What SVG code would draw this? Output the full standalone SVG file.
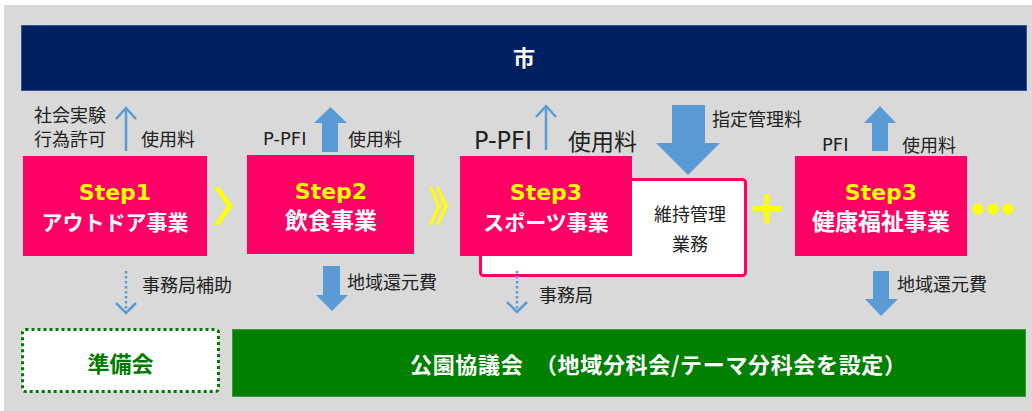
<svg xmlns="http://www.w3.org/2000/svg" width="1032" height="411" viewBox="0 0 1032 411">
<style>
.step{fill:#FF0066}
.t1{font-family:"DejaVu Sans","Noto Sans CJK JP",sans-serif;font-weight:bold;font-size:22px;fill:#FFFF00;text-anchor:middle}
.t2{font-family:"DejaVu Sans","Noto Sans CJK JP",sans-serif;font-weight:bold;font-size:23px;fill:#FFFFFF;text-anchor:middle}
.lb{font-family:"DejaVu Sans","Noto Sans CJK JP",sans-serif;font-size:18px;fill:#222222}
.blk{fill:#5B9BD5}
.thin{fill:none;stroke:#5B9BD5;stroke-width:2.5}
.dot{fill:none;stroke:#5B9BD5;stroke-width:2.5;stroke-dasharray:2.5 2.5}
.yel{fill:#FFFF00}
</style>
<rect x="4" y="5" width="1028" height="406" fill="#D9D9D9"/>
<g id="city">
<rect x="21.5" y="25.5" width="1005" height="65" fill="#002060" stroke="#2F5597" stroke-width="1"/>
<text x="524" y="66" style="font-family:'Noto Sans CJK JP',sans-serif;font-weight:bold;font-size:22px;fill:#fff;text-anchor:middle">市</text>
</g>
<g id="step1">
<rect class="step" x="23" y="156" width="184" height="100"/>
<text class="t1" x="115" y="200">Step1</text>
<text class="t2" x="115" y="230" style="font-size:21px">アウトドア事業</text>
</g>
<g id="step2">
<rect class="step" x="247" y="155" width="167" height="99"/>
<text class="t1" x="331" y="199">Step2</text>
<text class="t2" x="331" y="229">飲食事業</text>
</g>
<g id="maintenance">
<rect x="480.5" y="179.5" width="265" height="96" rx="3" fill="#FFFFFF" stroke="#FF0066" stroke-width="3"/>
<text class="lb" x="690" y="221" text-anchor="middle">維持管理</text>
<text class="lb" x="690" y="251" text-anchor="middle">業務</text>
</g>
<g id="step3-sports">
<rect class="step" x="460" y="156" width="172" height="100"/>
<text class="t1" x="546" y="200">Step3</text>
<text class="t2" x="546" y="230" style="font-size:21px">スポーツ事業</text>
</g>
<g id="step3-health">
<rect class="step" x="795" y="156" width="172" height="100"/>
<text class="t1" x="881" y="200">Step3</text>
<text class="t2" x="881" y="230">健康福祉事業</text>
</g>
<g id="prep">
<rect x="22.5" y="329.5" width="196" height="62" rx="3" fill="#FFFFFF" stroke="#007A00" stroke-width="3" stroke-dasharray="3 3"/>
<text x="120.5" y="372" style="font-family:'Noto Sans CJK JP',sans-serif;font-weight:bold;font-size:22px;fill:#007A00;text-anchor:middle">準備会</text>
</g>
<g id="council">
<rect x="232.5" y="329.5" width="793" height="67" fill="#008000" stroke="#3A9A3A" stroke-width="1"/>
<text x="410" y="373" textLength="496" style="font-family:'Noto Sans CJK JP',sans-serif;font-weight:bold;font-size:22px;fill:#fff">公園協議会　（地域分科会/テーマ分科会を設定）</text>
</g>
<g id="labels">
<text class="lb" x="34" y="121.5">社会実験</text>
<text class="lb" x="34" y="145.5">行為許可</text>
<text class="lb" x="141" y="145.5">使用料</text>
<text class="lb" x="263" y="145">P-PFI</text>
<text class="lb" x="348" y="145.5">使用料</text>
<text class="lb" x="474" y="149" style="font-size:24px">P-PFI</text>
<text class="lb" x="568" y="150" style="font-size:23px">使用料</text>
<text class="lb" x="712" y="126">指定管理料</text>
<text class="lb" x="822" y="151">PFI</text>
<text class="lb" x="902" y="152">使用料</text>
<text class="lb" x="142" y="292">事務局補助</text>
<text class="lb" x="347" y="289">地域還元費</text>
<text class="lb" x="539" y="302">事務局</text>
<text class="lb" x="897" y="291">地域還元費</text>
</g>
<g id="connectors">
<line class="thin" x1="126" y1="151" x2="126" y2="109"/>
<polyline class="thin" points="116,119 126,108 136,119"/>
<line class="thin" x1="546" y1="150" x2="546" y2="107"/>
<polyline class="thin" points="536,117 546,106 556,117"/>
<line class="dot" x1="126" y1="271" x2="126" y2="311"/>
<polyline class="thin" points="116,303 126,313 136,303"/>
<line class="dot" x1="517" y1="271" x2="517" y2="310"/>
<polyline class="thin" points="507,302 517,312 527,302"/>
<polygon class="blk" points="322,152 338,152 338,123 347,123 330.5,107 314,123 322,123"/>
<polygon class="blk" points="323,266 340,266 340,295 348,295 332,311 316,295 323,295"/>
<polygon class="blk" points="872,151 888,151 888,123 896,123 880,106 864,123 872,123"/>
<polygon class="blk" points="873,271 889,271 889,299 898,299 881,316 865,299 873,299"/>
<polygon class="blk" points="672,105 705,105 705,143 720,143 688,175 656,143 672,143"/>
<polygon class="yel" points="214,187 219,187 233,206 219,225 214,225 227,206"/>
<polygon class="yel" points="429,187 432,187 441,206 432,225 429,225 437,206"/>
<polygon class="yel" points="436,187 439,187 448,206 439,225 436,225 444,206"/>
<rect class="yel" x="753" y="206" width="28" height="5"/>
<rect class="yel" x="764.5" y="194" width="5" height="29"/>
<circle class="yel" cx="978" cy="209" r="5.5"/>
<circle class="yel" cx="993" cy="209" r="5.5"/>
<circle class="yel" cx="1008" cy="209" r="5.5"/>
</g>
</svg>
